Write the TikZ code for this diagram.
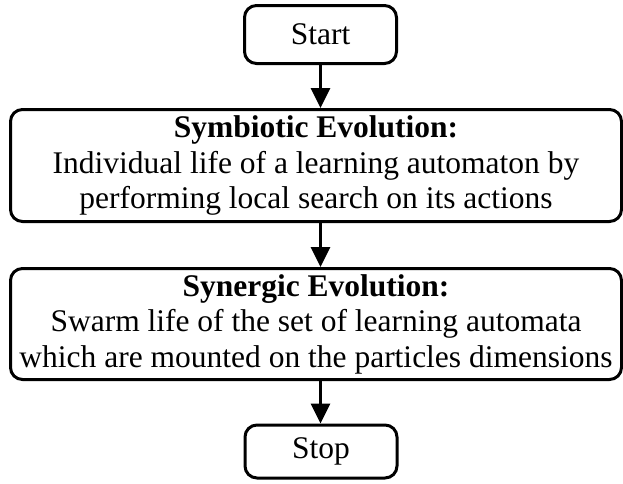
\documentclass[tikz,border=0pt]{standalone}
\usepackage{fontspec}
\setmainfont{Liberation Serif}
\usetikzlibrary{arrows.meta}
\begin{document}
\begin{tikzpicture}[x=1pt,y=-1pt,
  box/.style={draw=black, line width=3pt, rounded corners=12pt, inner sep=0pt,
    align=center, font=\fontsize{31.5}{35.5}\selectfont},
  flow/.style={line width=3pt, -{Triangle[length=20pt,width=19pt]}}]
  \useasboundingbox (0,0) rectangle (623,483);
  \node[box, minimum width=152pt, minimum height=58pt] (start) at (320.5,34.5) {Start};
  \node[box, minimum width=611pt, minimum height=112pt] (sym) at (316,165.5)
    {\textbf{Symbiotic Evolution:}\\Individual life of a learning automaton by\\performing local search on its actions};
  \node[box, minimum width=611pt, minimum height=111pt] (syn) at (316,324)
    {\textbf{Synergic Evolution:}\\Swarm life of the set of learning automata\\which are mounted on the particles dimensions};
  \node[box, minimum width=152pt, minimum height=53pt] (stop) at (321,451.5) {Stop};
  \draw[flow] (start.south) -- (start.south |- sym.north);
  \draw[flow] (sym.south -| start.south) -- (start.south |- syn.north);
  \draw[flow] (syn.south -| start.south) -- (start.south |- stop.north);
\end{tikzpicture}
\end{document}
